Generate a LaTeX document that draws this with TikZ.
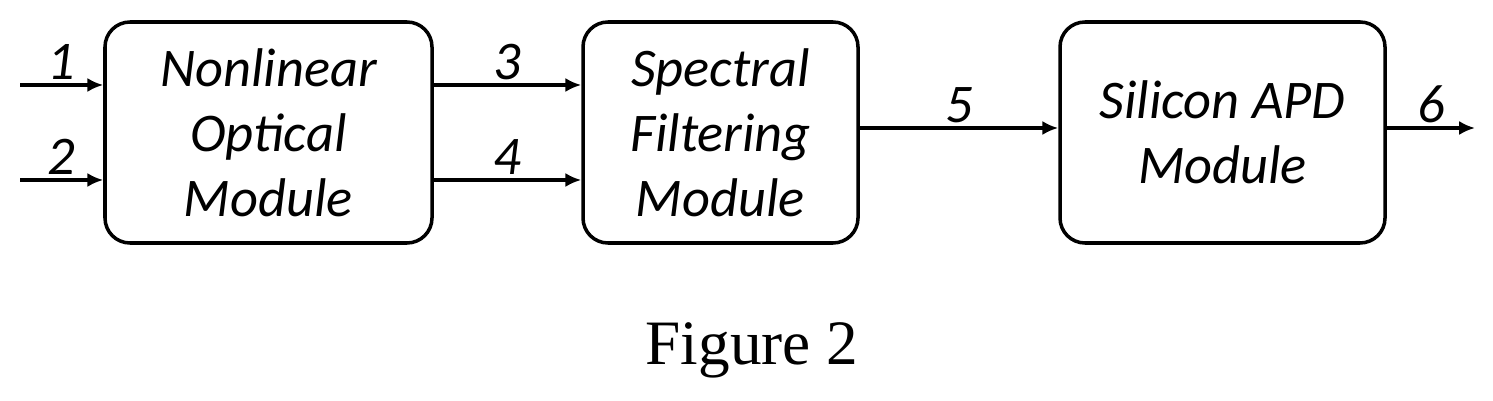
\documentclass[tikz,border=0pt]{standalone}
\usepackage{fontspec}
\setmainfont{Liberation Serif}
\newfontfamily\calfont{Carlito}
\usetikzlibrary{arrows.meta}
\begin{document}
\begin{tikzpicture}[x=0.02cm,y=-0.02cm,
	% styles for the blocks and the beams
	block/.style={draw, line width=2pt, rounded corners=0.5cm, align=center, inner sep=0pt,
		font=\calfont\itshape\fontsize{31}{37}\selectfont},
	beam/.style={line width=2pt, -{Latex[length=9pt,width=8pt]}},
	tag/.style={font=\calfont\itshape\fontsize{31}{37}\selectfont, inner sep=2pt}]
	\useasboundingbox (0,0) rectangle (1493,401);
	
	% Blocks
	\node[block, minimum width=327*0.02cm, minimum height=221*0.02cm] (nlo) at (268.5,132.5) {Nonlinear\\Optical\\Module};
	\node[block, minimum width=275*0.02cm, minimum height=221*0.02cm] (sfm) at (720.5,132.5) {Spectral\\Filtering\\Module};
	\node[block, minimum width=325*0.02cm, minimum height=221*0.02cm] (apd) at (1222.5,132.5) {Silicon APD\\Module};
	
	% Free ends
	\coordinate (in1) at (20,85); \coordinate (in2) at (20,180);
	\coordinate (out) at (1475,128);
	
	% Beams
	\draw[beam] (in1) -- (in1 -| nlo.west) node[tag, midway, above] {1};
	\draw[beam] (in2) -- (in2 -| nlo.west) node[tag, midway, above] {2};
	\draw[beam] (nlo.east |- in1) -- (sfm.west |- in1) node[tag, midway, above] {3};
	\draw[beam] (nlo.east |- in2) -- (sfm.west |- in2) node[tag, midway, above] {4};
	\draw[beam] (sfm.east |- out) -- (apd.west |- out) node[tag, midway, above] {5};
	\draw[beam] (apd.east |- out) -- (out) node[tag, midway, above] {6};
	
	% Caption
	\node[font=\fontsize{36}{40}\selectfont] (cap) at (752,350) {Figure 2};
\end{tikzpicture}
\end{document}
